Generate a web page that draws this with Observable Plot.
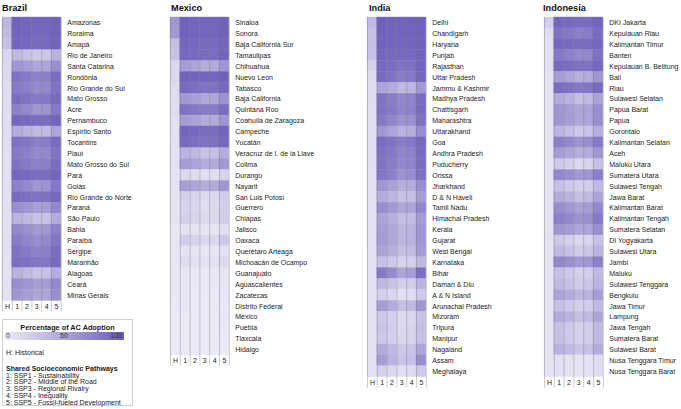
<!DOCTYPE html>
<html><head><meta charset="utf-8">
<script src="https://cdn.jsdelivr.net/npm/d3@7"></script>
<script src="https://cdn.jsdelivr.net/npm/@observablehq/plot@0.6"></script>
<style>
body{margin:0;background:#fff;}
#root{position:relative;width:681px;height:409px;font-family:"Liberation Sans",Arial,sans-serif;color:#222;overflow:hidden;}
.title{position:absolute;top:3px;font-weight:bold;font-size:9.2px;color:#111;white-space:nowrap;}
.panel{position:absolute;top:17px;}
.panel svg{overflow:visible;max-width:none !important;display:block;}
.legend{position:absolute;left:2px;top:319px;width:131px;height:87px;border:1px solid #cfcfcf;box-sizing:border-box;font-size:7px;color:#222;white-space:nowrap;}
.legend .lt{position:absolute;left:0;width:100%;text-align:center;top:3px;font-weight:bold;font-size:7.3px;}
.legend .bar{position:absolute;left:1px;top:12px;width:120px;height:8px;}
.legend .bar span{position:absolute;top:0;line-height:8px;font-size:7px;color:#333;}
.legend .h{position:absolute;left:3px;top:29px;}
.legend .ssp{position:absolute;left:3px;top:46px;line-height:6.7px;}
</style>
</head><body><div id="root"></div>
<script>
const columns = ["H","1","2","3","4","5"];
const colorRange = ["#eeedf7", "#6a5cba"];

const brazilStates = ["Amazonas","Roraima","Amapá","Rio de Janeiro","Santa Catarina","Rondônia","Rio Grande do Sul","Mato Grosso","Acre","Pernambuco","Espírito Santo","Tocantins","Piauí","Mato Grosso do Sul","Pará","Goiás","Rio Grande do Norte","Paraná","São Paulo","Bahia","Paraíba","Sergipe","Maranhão","Alagoas","Ceará","Minas Gerais"];
const brazilValues = [
[38,95,94,93,93,95],[35,94,93,92,92,95],[30,93,92,90,91,94],[16,35,30,25,26,40],[14,60,55,48,50,65],
[14,85,80,74,76,88],[12,80,75,68,70,84],[12,88,84,79,80,90],[12,75,68,60,62,80],[11,93,91,88,89,94],
[11,45,40,34,35,50],[11,86,82,76,78,88],[10,80,75,68,70,84],[10,85,80,74,76,88],[10,93,91,88,89,94],
[10,75,68,60,62,80],[10,90,87,84,85,92],[9,65,60,53,55,70],[9,40,35,29,30,45],[9,70,64,57,59,75],
[9,78,72,66,68,82],[9,85,80,74,76,88],[8,88,85,81,82,90],[8,40,34,28,30,45],[8,66,60,54,56,70],[8,60,54,48,50,65]];

const mexicoStates = ["Sinaloa","Sonora","Baja California Sur","Tamaulipas","Chihuahua","Nuevo León","Tabasco","Baja California","Quintana Roo","Coahuila de Zaragoza","Campeche","Yucatán","Veracruz de I. de la Llave","Colima","Durango","Nayarit","San Luis Potosí","Guerrero","Chiapas","Jalisco","Oaxaca","Querétaro Arteaga","Michoacán de Ocampo","Guanajuato","Aguascalientes","Zacatecas","Distrito Federal","México","Puebla","Tlaxcala","Hidalgo"];
const mexicoValues = [
[60,95,94,93,93,96],[58,95,94,93,93,96],[32,93,92,90,90,94],[30,92,90,88,89,94],[15,55,50,44,46,60],
[15,95,94,93,93,96],[12,90,87,84,85,92],[12,58,53,47,49,63],[12,85,81,77,78,88],[10,55,50,44,46,60],
[10,93,91,89,89,94],[9,90,87,84,85,92],[8,40,35,29,31,45],[8,55,50,44,46,60],[7,15,12,10,10,18],
[7,55,50,44,46,60],[6,20,17,14,15,23],[6,18,15,12,13,21],[6,20,17,14,15,23],[5,8,7,6,6,10],
[5,22,18,15,16,25],[5,7,6,5,5,9],[5,12,10,8,9,14],[4,5,4,3,4,6],[4,5,4,3,4,6],
[4,4,3,3,3,5],[3,4,3,2,3,4],[3,3,3,2,2,4],[3,3,3,2,2,4],[3,3,2,2,2,3],[3,3,2,2,2,3]];

const indiaStates = ["Delhi","Chandigarh","Haryana","Punjab","Rajasthan","Uttar Pradesh","Jammu & Kashmir","Madhya Pradesh","Chattisgarh","Maharashtra","Uttarakhand","Goa","Andhra Pradesh","Puducherry","Orissa","Jharkhand","D & N Haveli","Tamil Nadu","Himachal Pradesh","Kerala","Gujarat","West Bengal","Karnataka","Bihar","Daman & Diu","A & N Island","Arunachal Pradesh","Mizoram","Tripura","Manipur","Nagaland","Assam","Meghalaya"];
const indiaValues = [
[35,96,95,95,95,96],[30,95,94,94,94,95],[30,95,94,93,93,95],[30,93,92,91,91,94],[18,92,88,84,85,93],
[13,90,85,78,80,92],[11,50,45,35,37,58],[11,85,78,70,72,88],[10,85,79,72,74,88],[10,80,72,62,64,85],
[10,60,50,40,42,65],[10,88,84,78,80,90],[10,85,80,72,74,88],[10,85,78,70,72,88],[9,82,75,62,65,86],
[9,60,52,42,44,66],[9,45,38,30,32,55],[9,65,58,48,50,70],[9,50,42,32,34,56],[9,55,48,38,40,60],
[9,55,48,38,40,60],[8,50,42,32,34,56],[8,30,25,18,20,35],[8,80,68,50,55,86],[8,35,28,20,22,40],
[8,20,15,10,12,25],[8,55,45,32,35,60],[8,25,20,14,15,30],[8,28,22,15,17,32],[8,25,20,16,17,30],
[8,45,35,25,28,50],[8,55,40,28,30,65],[8,20,15,10,12,25]];

const indonesiaStates = ["DKI Jakarta","Kepulauan Riau","Kalimantan Timur","Banten","Kepulauan B. Belitung","Bali","Riau","Sulawesi Selatan","Papua Barat","Papua","Gorontalo","Kalimantan Selatan","Aceh","Maluku Utara","Sumatera Utara","Sulawesi Tengah","Jawa Barat","Kalimantan Barat","Kalimantan Tengah","Sumatera Selatan","DI Yogyakarta","Sulawesi Utara","Jambi","Maluku","Sulawesi Tenggara","Bengkulu","Jawa Timur","Lampung","Jawa Tengah","Sumatera Barat","Sulawesi Barat","Nusa Tenggara Timur","Nusa Tenggara Barat"];
const indonesiaValues = [
[22,93,92,90,90,93],[12,85,80,75,77,88],[10,92,90,88,88,93],[9,80,75,68,70,85],[9,90,88,85,85,92],
[8,55,50,42,45,60],[8,88,85,80,82,90],[8,45,40,32,35,52],[8,60,55,48,50,65],[8,60,55,48,50,65],
[8,38,32,25,28,42],[8,75,70,62,65,80],[8,55,50,42,45,60],[8,25,20,15,17,30],[8,70,65,58,60,75],
[8,30,25,20,22,35],[8,45,40,32,35,50],[8,65,60,52,55,70],[8,75,70,62,65,80],[8,60,55,48,50,65],
[8,25,20,15,17,30],[8,35,30,24,26,40],[8,70,65,58,60,75],[8,30,25,20,22,35],[8,35,30,24,26,40],
[8,50,45,38,40,55],[8,30,25,20,22,35],[8,45,40,32,35,50],[8,30,25,20,22,35],[8,30,25,20,22,35],
[8,40,35,28,30,45],[7,10,8,6,7,12],[7,10,8,6,7,12]];

const panels = [
  {title:"Brazil", states:brazilStates, values:brazilValues, left:2, titleLeft:2},
  {title:"Mexico", states:mexicoStates, values:mexicoValues, left:170, titleLeft:171},
  {title:"India", states:indiaStates, values:indiaValues, left:367, titleLeft:369},
  {title:"Indonesia", states:indonesiaStates, values:indonesiaValues, left:544, titleLeft:543}
];

const root = document.getElementById("root");
const rowH = 10.9, colW = 9.8, marginB = 12, marginR = 110;

for (const p of panels) {
  const t = document.createElement("div");
  t.className = "title"; t.style.left = p.titleLeft + "px"; t.textContent = p.title;
  root.appendChild(t);
  const data = p.states.flatMap((s, i) => columns.map((c, j) => ({state: s, col: c, value: p.values[i][j]})));
  const W = columns.length * colW + marginR;
  const H = p.states.length * rowH + marginB;
  const chart = Plot.plot({
    width: W,
    height: H,
    marginLeft: 0, marginTop: 0, marginRight: marginR, marginBottom: marginB,
    style: {fontSize: "7px", fontFamily: "'Liberation Sans', Arial, sans-serif", background: "transparent", color: "#222", overflow: "visible"},
    x: {domain: columns, padding: 0, round: false, label: null, tickSize: 0, tickPadding: 3},
    y: {domain: p.states, padding: 0, round: false, label: null, axis: "right", tickSize: 0, tickPadding: 6},
    color: {type: "linear", domain: [0, 100], range: colorRange, interpolate: "rgb"},
    marks: [
      Plot.cell(data, {x: "col", y: "state", fill: "value", stroke: "value", strokeWidth: 0.4, inset: 0}),
      Plot.ruleX(columns, {x: d => d, dx: -colW / 2, stroke: "#777", strokeOpacity: 0.55, strokeWidth: 0.7, insetBottom: -11}),
      Plot.ruleX([columns[columns.length - 1]], {x: d => d, dx: colW / 2, stroke: "#777", strokeOpacity: 0.55, strokeWidth: 0.7, insetBottom: -11})
    ]
  });
  chart.style.width = W + "px";
  chart.style.height = H + "px";
  chart.style.maxWidth = "none";
  const wrap = document.createElement("div");
  wrap.className = "panel"; wrap.style.left = p.left + "px";
  wrap.style.width = W + "px"; wrap.style.height = H + "px";
  wrap.appendChild(chart);
  root.appendChild(wrap);
}

const legendTicks = [0, 50, 100];
const legendLines = ["1: SSP1 - Sustainability","2: SSP2 - Middle of the Road","3: SSP3 - Regional Rivalry","4: SSP4 - Inequality","5: SSP5 - Fossil-fueled Development"];
const lg = document.createElement("div");
lg.className = "legend";
lg.innerHTML = `<div class="lt">Percentage of AC Adoption</div>
<div class="bar" style="background:linear-gradient(to right, ${colorRange[0]}, ${colorRange[1]})">
<span style="left:2px">${legendTicks[0]}</span>
<span style="left:50%;transform:translateX(-50%)">${legendTicks[1]}</span>
<span style="right:2px">${legendTicks[2]}</span></div>
<div class="h">H: Historical</div>
<div class="ssp"><b>Shared Socioeconomic Pathways</b><br>${legendLines.join("<br>")}</div>`;
root.appendChild(lg);
</script>
</body></html>
